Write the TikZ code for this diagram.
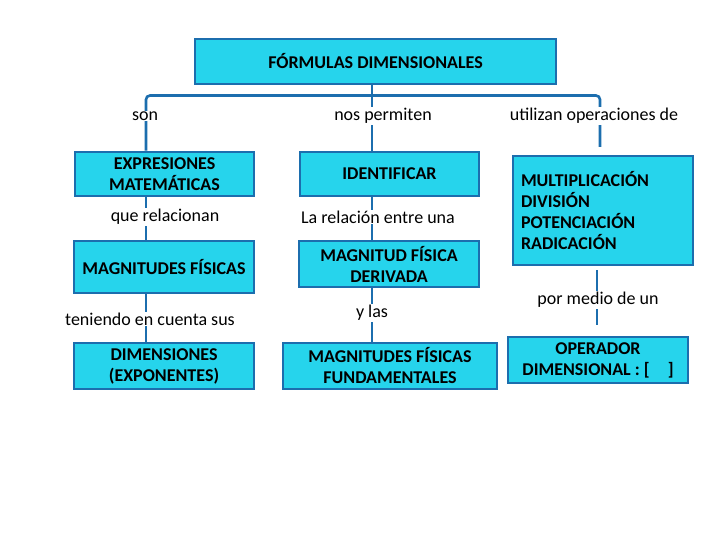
\documentclass[tikz,border=0pt]{standalone}
\usepackage{fontspec}
\setmainfont{Carlito}
\usetikzlibrary{positioning}
\definecolor{boxfill}{RGB}{38,212,236}
\definecolor{boxline}{RGB}{28,110,174}
\tikzset{
  concept/.style={draw=boxline, line width=2.6pt, fill=boxfill, font=\bfseries\fontsize{18}{21}\selectfont, align=center, inner sep=0pt},
  link/.style={draw=boxline, line width=2.6pt},
  linkword/.style={fill=white, font=\fontsize{18}{21}\selectfont, inner sep=1pt}
}

\begin{document}
\begin{tikzpicture}[x=1pt, y=-1pt]
\useasboundingbox (0,0) rectangle (720,540);
% columns and joints
\coordinate (colL) at (146,0);
\coordinate (colC) at (372,0);
\coordinate (colR) at (600,0);
\coordinate (hub) at (372,95.5);
\coordinate (rEnd) at (600,147);
% concepts
\node[concept, minimum width=361, minimum height=45] (title) at (375.5,61.5) {FÓRMULAS DIMENSIONALES};
\node[concept, minimum width=179, minimum height=44] (expr) at (164.5,174) {EXPRESIONES\\MATEMÁTICAS};
\node[concept, minimum width=179, minimum height=44] (ident) at (389.5,174) {IDENTIFICAR};
\node[concept, minimum width=180, minimum height=109, align=left, text width=164] (oper) at (603,210.5) {MULTIPLICACIÓN\\DIVISIÓN\\POTENCIACIÓN\\RADICACIÓN};
\node[concept, minimum width=180, minimum height=52] (magfis) at (164,267) {MAGNITUDES FÍSICAS};
\node[concept, minimum width=180, minimum height=46] (magder) at (389,264) {MAGNITUD FÍSICA\\DERIVADA};
\node[concept, minimum width=180, minimum height=46] (dimen) at (164,366) {DIMENSIONES\\(EXPONENTES)};
\node[concept, minimum width=214, minimum height=46] (magfund) at (390,366) {MAGNITUDES FÍSICAS\\FUNDAMENTALES};
\node[concept, minimum width=180, minimum height=46] (opdim) at (598,360) {OPERADOR\\DIMENSIONAL : [\quad]};
% connectors
\draw[link, rounded corners=4] (expr.north -| colL) -- (colL |- hub) -- (colR |- hub) -- (rEnd);
\draw[link] (title.south -| colC) -- (ident.north -| colC);
\draw[link] (expr.south -| colL) -- (magfis.north -| colL);
\draw[link] (magfis.south -| colL) -- (dimen.north -| colL);
\draw[link] (ident.south -| colC) -- (magder.north -| colC);
\draw[link] (magder.south -| colC) -- (magfund.north -| colC);
\draw[link, shorten <=4, shorten >=11] (oper.south -| 597,0) -- (opdim.north -| 597,0);
% linking words
\node[linkword] (son) at (145,116) {son};
\node[linkword] (permiten) at (383,116) {nos permiten};
\node[linkword] (utilizan) at (594,116) {utilizan operaciones de};
\node[linkword] (relacionan) at (165,217) {que relacionan};
\node[linkword] (relacion) at (378,217) {La relación entre una};
\node[linkword] (teniendo) at (150,319) {teniendo en cuenta sus};
\node[linkword] (ylas) at (372,313) {y las};
\node[linkword] (medio) at (598,300) {por medio de un};
\end{tikzpicture}
\end{document}
